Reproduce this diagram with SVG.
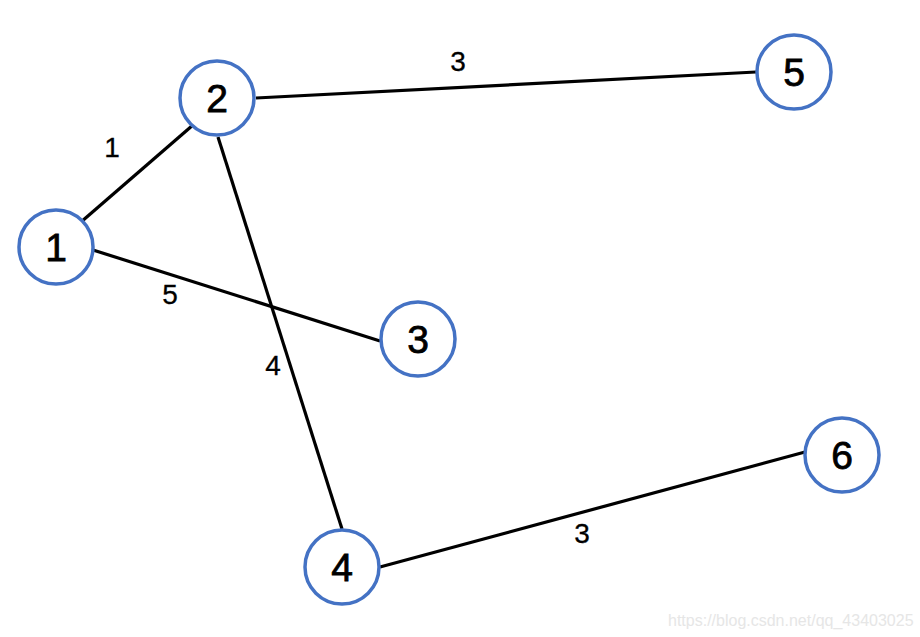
<svg xmlns="http://www.w3.org/2000/svg" width="920" height="637" viewBox="0 0 920 637">
<style>
.node circle{fill:#fff;stroke:#4472c4;stroke-width:3.5}
.node text{font-family:"Liberation Sans",Arial,sans-serif;font-size:39px;text-anchor:middle;fill:#000;stroke:#000;stroke-width:0.8}
.edges line{stroke:#000;stroke-width:3.2}
.lbl{font-family:"Liberation Sans",Arial,sans-serif;font-size:28px;text-anchor:middle;fill:#000;stroke:#000;stroke-width:0.3}
.wm{font-family:"Liberation Sans",Arial,sans-serif;font-size:16px;fill:#e6e6e6}
</style>
<rect width="920" height="637" fill="#fff"/>
<g id="edges" class="edges">
<line x1="81" y1="222" x2="193" y2="125"/>
<line x1="93" y1="250" x2="380" y2="341"/>
<line x1="256" y1="98" x2="756" y2="72"/>
<line x1="218" y1="137" x2="342" y2="529"/>
<line x1="380" y1="567" x2="805" y2="452"/>
</g>
<g id="edge-labels">
<text class="lbl" x="112" y="157">1</text>
<text class="lbl" x="458" y="71">3</text>
<text class="lbl" x="170" y="304">5</text>
<text class="lbl" x="273" y="375">4</text>
<text class="lbl" x="582" y="543">3</text>
</g>
<g id="node1" class="node"><circle cx="56" cy="247" r="37"/><text x="56" y="261">1</text></g>
<g id="node2" class="node"><circle cx="217" cy="98" r="37"/><text x="217" y="112">2</text></g>
<g id="node3" class="node"><circle cx="418" cy="339" r="37"/><text x="418" y="353">3</text></g>
<g id="node4" class="node"><circle cx="342" cy="567" r="37"/><text x="342" y="581">4</text></g>
<g id="node5" class="node"><circle cx="794" cy="72" r="37"/><text x="794" y="86">5</text></g>
<g id="node6" class="node"><circle cx="842" cy="455" r="37"/><text x="842" y="469">6</text></g>
<text class="wm" x="668" y="626">https://blog.csdn.net/qq_43403025</text>
</svg>
